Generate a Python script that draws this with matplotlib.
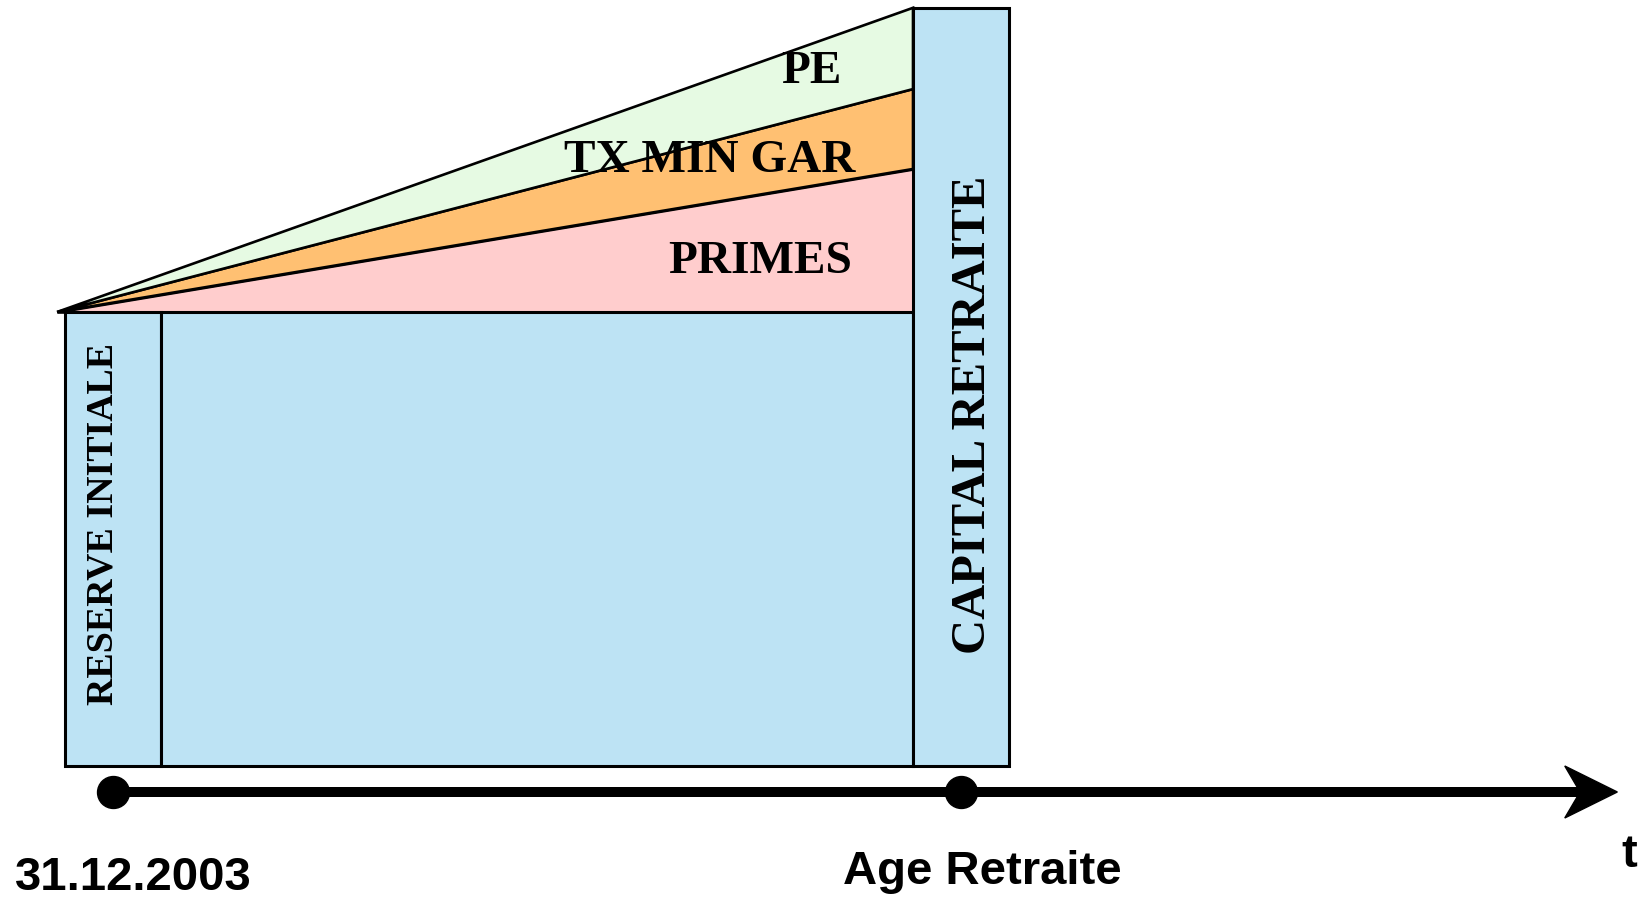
import matplotlib
matplotlib.use("Agg")
import matplotlib.pyplot as plt
from matplotlib.patches import Rectangle, Polygon

# schema: valeurs (reserve initiale = 100)
t_debut, t_retraite = 0.0, 1.0
date_labels = ['31.12.2003', 'Age Retraite']
reserve_initiale = 100.0
couches = ['PRIMES', 'TX MIN GAR', 'PE']
increments = [31.5, 17.6, 17.9]
couleurs = ['#ffcdcd', '#ffc072', '#e6fae3']
bleu = '#bde3f4'

hw = 0.0566        # demi-largeur des colonnes
apex_t = -0.066

fig = plt.figure(figsize=(16.41, 8.99), dpi=100)
ax = fig.add_axes([0, 0, 1, 1])
ax.set_xlim(-0.1333, 1.8019)
ax.set_ylim(-29.3, 168.72)
ax.axis('off')

serif = dict(family=['Liberation Serif', 'DejaVu Serif'], fontweight='bold', fontsize=34)
sans = dict(family=['Liberation Sans', 'DejaVu Sans'], fontweight='bold', fontsize=34)

# rectangles bleus
ax.add_patch(Rectangle((t_debut - hw, 0), 2 * hw, reserve_initiale,
                       facecolor=bleu, edgecolor='black', lw=2.2, zorder=2))
ax.add_patch(Rectangle((t_debut + hw, 0), (t_retraite - hw) - (t_debut + hw), reserve_initiale,
                       facecolor=bleu, edgecolor='black', lw=2.2, zorder=2))
capital = reserve_initiale + sum(increments)
ax.add_patch(Rectangle((t_retraite - hw, 0), 2 * hw, capital,
                       facecolor=bleu, edgecolor='black', lw=2.2, zorder=3))

# triangles empiles
bas = reserve_initiale
x_cap = t_retraite - hw
for nom, inc, c in zip(couches, increments, couleurs):
    haut = bas + inc
    ax.add_patch(Polygon([(apex_t, reserve_initiale), (x_cap, bas), (x_cap, haut)],
                         closed=True, facecolor=c, edgecolor='black', lw=1.9, zorder=1))
    bas = haut

ax.text(0.824, 150.4, 'PE', ha='center', va='baseline', zorder=5, **serif)
ax.text(0.704, 130.8, 'TX MIN GAR', ha='center', va='baseline', zorder=5, **serif)
ax.text(0.763, 108.6, 'PRIMES', ha='center', va='baseline', zorder=5, **serif)

ax.text(-0.001, 53.4, 'RESERVE INITIALE', rotation=90, rotation_mode='anchor',
        ha='center', va='baseline', zorder=5,
        family=['Liberation Serif', 'DejaVu Serif'], fontweight='bold', fontsize=27.3)
ax.text(1.028, 77.3, 'CAPITAL RETRAITE', rotation=90, rotation_mode='anchor',
        ha='center', va='baseline', zorder=5,
        family=['Liberation Serif', 'DejaVu Serif'], fontweight='bold', fontsize=35)

# axe du temps
y_axe = -5.73
ax.plot([t_debut, 1.73], [y_axe, y_axe], color='black', lw=7.2, solid_capstyle='butt', zorder=4)
ax.add_patch(Polygon([(1.774, y_axe), (1.712, y_axe + 5.73), (1.730, y_axe),
                      (1.712, y_axe - 5.73)], closed=True, facecolor='black',
                     edgecolor='black', lw=1, zorder=4))
ax.plot([t_debut, t_retraite], [y_axe, y_axe], 'o', color='black', markersize=23, zorder=5)

ax.text(0.0236, -27.3, date_labels[0], ha='center', va='baseline', **sans)
ax.text(1.025, -26.0, date_labels[1], ha='center', va='baseline', **sans)
ax.text(1.788, -22.2, 't', ha='center', va='baseline', **sans)

fig.savefig('out.png', dpi=100)
